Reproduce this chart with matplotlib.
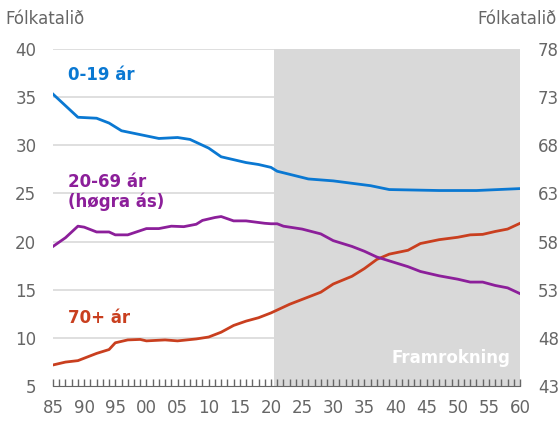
import numpy as np
from matplotlib import pyplot as plt

# Gögn lesin af myndinni (ár, hlutfall %)
ar_ung = [1985, 1989, 1992, 1994, 1996, 1999, 2002, 2005, 2007, 2010, 2012, 2014,
          2016, 2018, 2020, 2021, 2026, 2030, 2036, 2039, 2047, 2053, 2060]
ung = [35.3, 32.9, 32.8, 32.3, 31.5, 31.1, 30.7, 30.8, 30.6, 29.7, 28.8, 28.5,
       28.2, 28.0, 27.7, 27.3, 26.5, 26.3, 25.8, 25.4, 25.3, 25.3, 25.5]

ar_mid = [1985, 1987, 1989, 1990, 1992, 1994, 1995, 1997, 2000, 2002, 2004, 2006,
          2008, 2009, 2011, 2012, 2014, 2016, 2019, 2020, 2021, 2022, 2025, 2028,
          2030, 2033, 2035, 2037, 2040, 2042, 2044, 2047, 2050, 2052, 2054, 2056,
          2058, 2060]
# hægri ás (43-78)
mid = [57.5, 58.4, 59.6, 59.5, 59.0, 59.0, 58.7, 58.7, 59.35, 59.35, 59.6, 59.55,
       59.8, 60.2, 60.5, 60.6, 60.15, 60.15, 59.9, 59.85, 59.85, 59.6, 59.3, 58.8,
       58.1, 57.5, 57.0, 56.4, 55.8, 55.4, 54.9, 54.45, 54.1, 53.8, 53.8, 53.45,
       53.2, 52.6]

ar_eldri = [1985, 1987, 1989, 1990, 1992, 1994, 1995, 1997, 1999, 2000, 2003, 2005,
            2008, 2010, 2012, 2014, 2016, 2018, 2020, 2023, 2025, 2028, 2030, 2033,
            2035, 2037, 2039, 2042, 2044, 2047, 2050, 2052, 2054, 2056, 2058, 2060]
eldri = [7.2, 7.5, 7.65, 7.9, 8.4, 8.8, 9.5, 9.8, 9.85, 9.7, 9.8, 9.7,
         9.9, 10.1, 10.6, 11.3, 11.75, 12.1, 12.6, 13.5, 14.0, 14.75, 15.6, 16.4,
         17.2, 18.15, 18.7, 19.1, 19.8, 20.2, 20.45, 20.7, 20.75, 21.05, 21.3, 21.9]

blar = '#0A78D2'
fjolu = '#8C1F9A'
raudur = '#C93F1F'
grar = '#666666'

fig = plt.figure(figsize=(5.58, 4.48), dpi=100)
ax = fig.add_axes([0.095, 0.138, 0.837, 0.753])
ax2 = ax.twinx()

ax.set_xlim(1985, 2060)
ax.set_ylim(5, 40)
ax2.set_ylim(43, 78)

# Gridlínur og skygging
ax.set_yticks(np.arange(5, 41, 5))
for yv in range(10, 41, 5):
    ax.axhline(yv, color='#D9D9D9', lw=1.2, zorder=0)
ax.axvspan(2020.5, 2060, color='#D9D9D9', zorder=1, lw=0)

ax.plot(ar_ung, ung, color=blar, lw=2, zorder=3)
ax.plot(ar_eldri, eldri, color=raudur, lw=2, zorder=3)
ax2.plot(ar_mid, mid, color=fjolu, lw=2, zorder=3)

# x-ás
ax.set_xticks(np.arange(1985, 2061, 5))
ax.set_xticks(np.arange(1985, 2061, 1), minor=True)
ax.set_xticklabels(['%02d' % (y % 100) for y in range(1985, 2061, 5)])
ax.tick_params(axis='x', which='both', direction='in', length=5, color=grar,
               labelsize=12, labelcolor=grar, pad=9, width=1)
ax.tick_params(axis='y', length=0, labelsize=12, labelcolor=grar, pad=12)
ax2.set_yticks(np.arange(43, 79, 5))
ax2.tick_params(axis='y', length=0, labelsize=12, labelcolor=grar, pad=13)

for a in (ax, ax2):
    for s in ['top', 'left', 'right', 'bottom']:
        a.spines[s].set_visible(False)
ax.spines['bottom'].set_visible(True)
ax.spines['bottom'].set_color(grar)
ax.spines['bottom'].set_zorder(4)

# Textar
fig.text(0.009, 0.958, 'Fólkatalið', fontsize=12, color=grar, va='center')
fig.text(0.998, 0.958, 'Fólkatalið', fontsize=12, color=grar, va='center', ha='right')
ax.text(1987.4, 37.3, '0-19 ár', color=blar, fontsize=12, fontweight='bold', va='center')
ax.text(1987.4, 25.1, '20-69 ár\n(høgra ás)', color=fjolu, fontsize=12,
        fontweight='bold', va='center', linespacing=1.1)
ax.text(1987.4, 12.1, '70+ ár', color=raudur, fontsize=12, fontweight='bold', va='center')
ax.text(2058.5, 7.9, 'Framrokning', color='white', fontsize=12, fontweight='bold',
        va='center', ha='right', zorder=5)

fig.savefig('out.png', dpi=100)
